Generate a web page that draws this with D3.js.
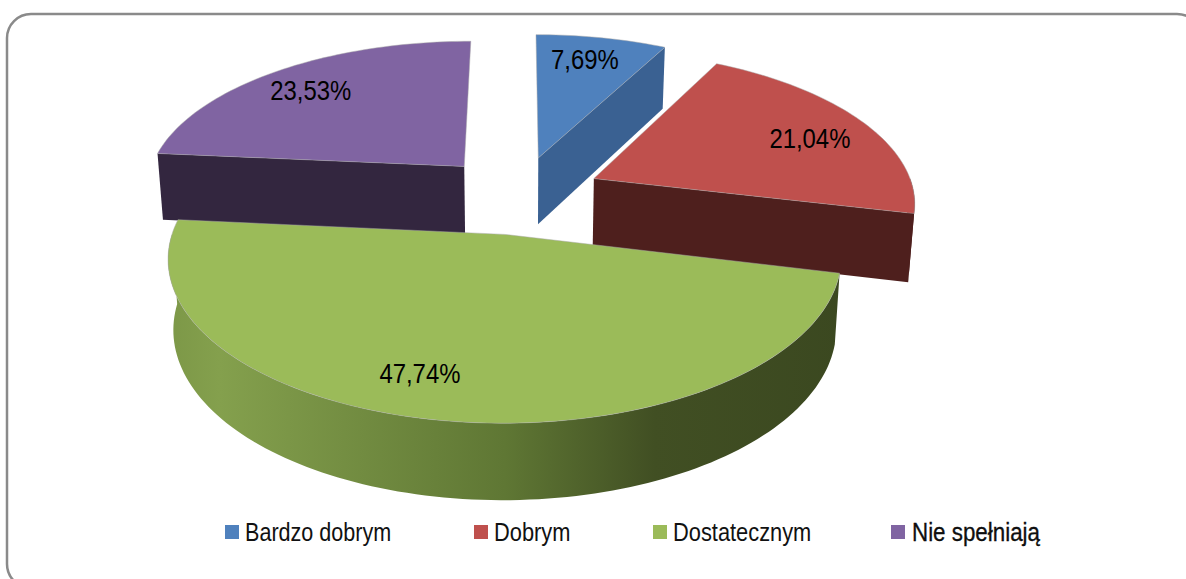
<!DOCTYPE html>
<html>
<head>
<meta charset="UTF-8">
<style>
  html, body { margin: 0; padding: 0; background: #fff; overflow: hidden; }
  svg { display: block; }
  text { font-family: "Liberation Sans", sans-serif; }
</style>
<script src="https://cdnjs.cloudflare.com/ajax/libs/d3/7.8.5/d3.min.js"></script>
</head>
<body>
<script>
// data
var categories = ["Bardzo dobrym", "Dobrym", "Dostatecznym", "Nie spełniają"];
var shares = [7.69, 21.04, 47.74, 23.53];
var shareLabels = ["7,69%", "21,04%", "47,74%", "23,53%"];

// colours
var topColors = ["#4f81bd", "#bf504d", "#9bbb59", "#8064a2"];
var sideColors = ["#3a6192", "#4e1f1d", "#5f7734", "#33263f"];

var width = 1186, height = 579;

// the pie lies on a plane seen in perspective: cx,cy = middle of the unexploded pie
var cx = 519, cy = 194.5;
var scaleX = 321, scaleY = 150, depth = 0.14;
var thick = 68, thickDepth = 0.0926, baseShrink = 0.985;
var explode = 0.26;
var labelRadius = [0.81, 0.78, 0.79, 0.80];
var labelTurn = [-1.5, 2, 7, -0.5]; // degrees, best fit placement of the labels
var drawOrder = [0, 3, 1, 2];       // back to front

var xScale = d3.scaleLinear().domain([-1, 1]).range([cx - scaleX, cx + scaleX]);
var yScale = d3.scaleLinear().domain([-1, 1]).range([cy - scaleY, cy + scaleY]);

// world (x right, y to the viewer), z = 0 top face, z = 1 bottom of the pie
function project(x, y, z) {
  var w = 1 - depth * y;
  var sx = xScale(x / w), sy = yScale(y / w);
  if (z) {
    sx = cx + (sx - cx) * baseShrink;
    sy = sy + thick / (1 - thickDepth * y);
  }
  return [sx, sy];
}

var pie = d3.pie().sort(null).value(function(d) { return d; });
var slices = pie(shares);

var line = d3.line();

function rimPoints(s, z, from, to) {
  var m = (s.startAngle + s.endAngle) / 2;
  var ox = explode * Math.sin(m), oy = -explode * Math.cos(m);
  var n = Math.ceil((to - from) * 40);
  return d3.range(n + 1).map(function(i) {
    var a = from + (to - from) * i / n;
    return project(ox + Math.sin(a), oy - Math.cos(a), z);
  });
}

function apex(s, z) {
  var m = (s.startAngle + s.endAngle) / 2;
  return project(explode * Math.sin(m), -explode * Math.cos(m), z);
}

var svg = d3.select("body").append("svg")
  .attr("width", width)
  .attr("height", height);

// shaded side of the big slice
var grad = svg.append("defs").append("linearGradient")
  .attr("id", "greenSide")
  .attr("gradientUnits", "userSpaceOnUse")
  .attr("x1", 165).attr("x2", 845).attr("y1", 0).attr("y2", 0);
[[0, "#7c9747"], [0.08, "#84a04d"], [0.5, "#5f7734"], [0.72, "#414f23"], [1, "#3b4820"]].forEach(function(d) {
  grad.append("stop").attr("offset", d[0]).attr("stop-color", d[1]);
});

// frame, runs off the right and the bottom of the picture
svg.append("rect")
  .attr("x", 7).attr("y", 14)
  .attr("width", 1194).attr("height", 574)
  .attr("rx", 24)
  .attr("fill", "#fff")
  .attr("stroke", "#8a8a8a")
  .attr("stroke-width", 2.5);

drawOrder.forEach(function(i) {
  var s = slices[i];
  var g = svg.append("g");
  var fillSide = i == 2 ? "url(#greenSide)" : sideColors[i];

  // outer wall, only the part that faces the viewer
  var from = Math.max(s.startAngle, Math.PI / 2), to = Math.min(s.endAngle, 3 * Math.PI / 2);
  if (to > from) {
    g.append("path")
      .attr("d", line(rimPoints(s, 0, from, to).concat(rimPoints(s, 1, from, to).reverse())) + "Z")
      .attr("fill", fillSide);
  }

  // cut faces that face the viewer
  var top = rimPoints(s, 0, s.startAngle, s.endAngle), base = rimPoints(s, 1, s.startAngle, s.endAngle);
  if (Math.sin(s.startAngle) < -1e-6) {
    g.append("path")
      .attr("d", line([apex(s, 0), top[0], base[0], apex(s, 1)]) + "Z")
      .attr("fill", fillSide);
  }
  if (Math.sin(s.endAngle) > 1e-6) {
    g.append("path")
      .attr("d", line([apex(s, 0), top[top.length - 1], base[base.length - 1], apex(s, 1)]) + "Z")
      .attr("fill", fillSide);
  }

  // top face
  g.append("path")
    .attr("d", line([apex(s, 0)].concat(top)) + "Z")
    .attr("fill", topColors[i])
    .attr("stroke", "#a8a8a8")
    .attr("stroke-opacity", 0.6)
    .attr("stroke-width", 0.8);
});

// data labels, squeezed because the original font is a narrow one
slices.forEach(function(s, i) {
  var m = (s.startAngle + s.endAngle) / 2;
  var a = m + labelTurn[i] * Math.PI / 180;
  var p = project(explode * Math.sin(m) + labelRadius[i] * Math.sin(a),
                  -explode * Math.cos(m) - labelRadius[i] * Math.cos(a), 0);
  svg.append("text")
    .attr("transform", "translate(" + p[0] + "," + (p[1] + 1) + ") scale(0.853,1)")
    .attr("text-anchor", "middle")
    .attr("dominant-baseline", "central")
    .attr("font-size", 28)
    .attr("fill", "#000")
    .text(shareLabels[i]);
});

// legend
var legendX = d3.scaleOrdinal().domain(categories).range([225, 474, 653, 891]);
var legendSqueeze = [0.83, 0.84, 0.84, 0.86];
var legend = svg.selectAll(".legend").data(categories).enter().append("g")
  .attr("class", "legend")
  .attr("transform", function(d) { return "translate(" + legendX(d) + ",532)"; });
legend.append("rect")
  .attr("x", 0).attr("y", -7)
  .attr("width", 14).attr("height", 14)
  .attr("fill", function(d, i) { return topColors[i]; });
legend.append("text")
  .attr("transform", function(d, i) { return "translate(" + (i == 3 ? 21 : 20) + ",0) scale(" + legendSqueeze[i] + ",1)"; })
  .attr("dominant-baseline", "central")
  .attr("font-size", 26)
  .attr("fill", "#111")
  .attr("stroke", function(d, i) { return i == 3 ? "#000" : "none"; })
  .attr("stroke-width", 0.3)
  .text(function(d) { return d; });
</script>
</body>
</html>
